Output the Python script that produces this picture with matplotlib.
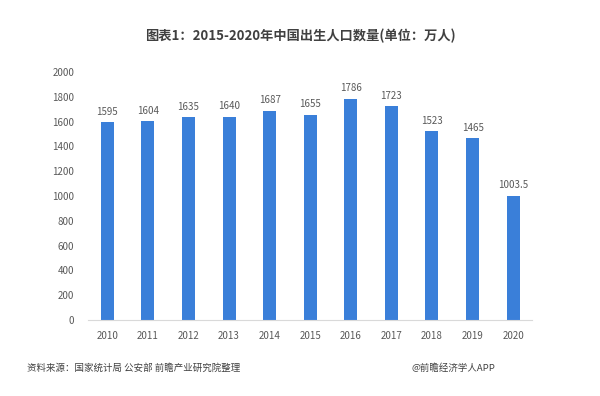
import matplotlib.pyplot as plt
import numpy as np

plt.rcParams['font.family'] = ['Noto Sans CJK SC', 'DejaVu Sans']

years = ['2010', '2011', '2012', '2013', '2014', '2015', '2016', '2017', '2018', '2019', '2020']
births = [1595, 1604, 1635, 1640, 1687, 1655, 1786, 1723, 1523, 1465, 1003.5]
labels = ['1595', '1604', '1635', '1640', '1687', '1655', '1786', '1723', '1523', '1465', '1003.5']

BAR_COLOR = '#3a7fd9'
TEXT_COLOR = '#595959'

fig = plt.figure(figsize=(6, 3.96), dpi=100)
ax = fig.add_axes([0.147, 0.192, 0.74, 0.626])

x = np.arange(len(years))
ax.bar(x, births, width=0.32, color=BAR_COLOR)

for xi, v, lab in zip(x, births, labels):
    ax.text(xi, v + 45, lab, ha='center', va='bottom', fontsize=7, color=TEXT_COLOR)

ax.set_xlim(-0.47, len(years) - 0.53)
ax.set_ylim(0, 2000)
ax.set_yticks(np.arange(0, 2001, 200))
ax.set_xticks(x)
ax.set_xticklabels(years)
ax.tick_params(axis='both', length=0, labelsize=7, colors=TEXT_COLOR)
ax.tick_params(axis='x', pad=8)
ax.tick_params(axis='y', pad=10)

for s in ['top', 'right', 'left']:
    ax.spines[s].set_visible(False)
ax.spines['bottom'].set_color('#d9d9d9')

fig.text(0.5, 0.908, '图表1：2015-2020年中国出生人口数量(单位：万人)', ha='center', va='center',
         fontsize=9.5, fontweight='bold', color='#404040')
fig.text(0.045, 0.07, '资料来源：国家统计局 公安部 前瞻产业研究院整理', ha='left', va='center',
         fontsize=6.8, color='#404040')
fig.text(0.825, 0.07, '@前瞻经济学人APP', ha='right', va='center',
         fontsize=6.8, color='#404040')

plt.savefig('out.png', dpi=100)
